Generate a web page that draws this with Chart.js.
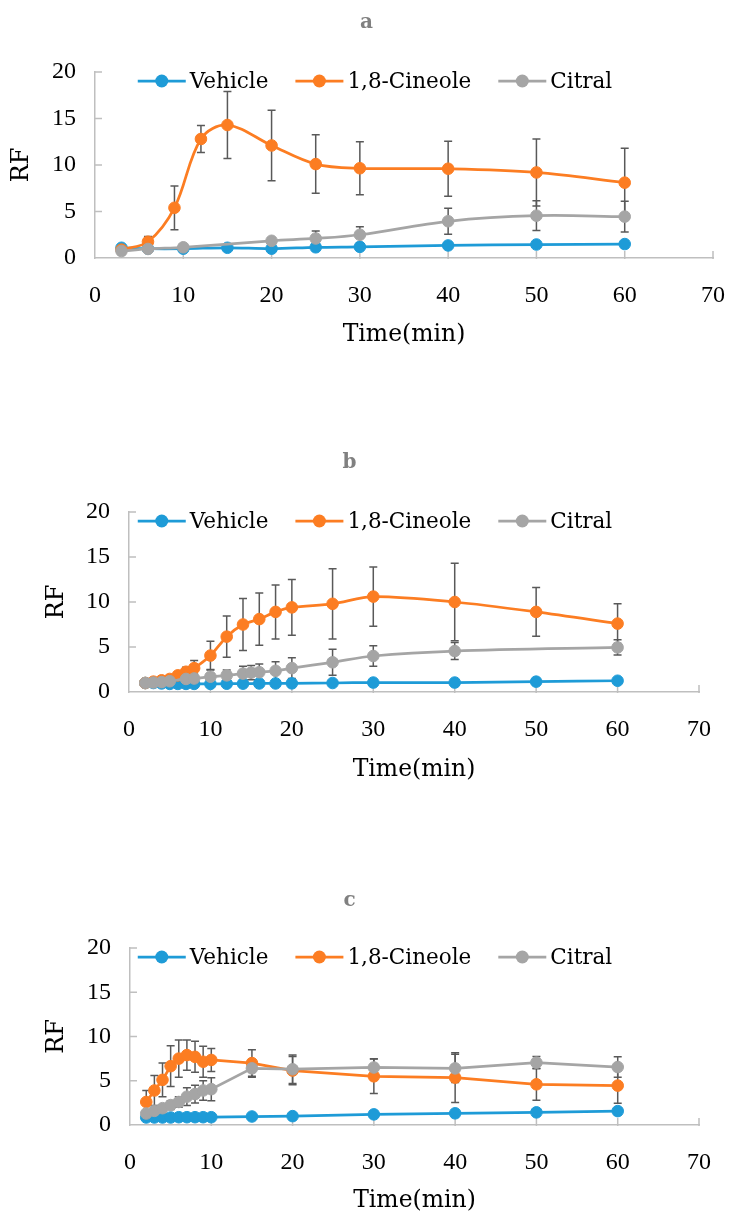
<!DOCTYPE html>
<html><head><meta charset="utf-8">
<script src="https://cdn.jsdelivr.net/npm/chart.js@4.4.0/dist/chart.umd.min.js"></script>
<style>
html,body{margin:0;padding:0;background:#fff;}
#wrap{position:relative;width:748px;height:1215px;overflow:hidden;background:#fff;}
.box{position:absolute;left:0;width:748px;}
canvas{display:block;}
</style></head><body>
<div id="wrap">
<div class="box" style="top:0;height:440px"><canvas id="ca" width="748" height="440"></canvas></div>
<div class="box" style="top:440px;height:440px"><canvas id="cb" width="748" height="440"></canvas></div>
<div class="box" style="top:880px;height:335px"><canvas id="cc" width="748" height="335"></canvas></div>
</div>
<script>
// ---------- data ----------
const seriesNames = ['Vehicle', '1,8-Cineole', 'Citral'];
const seriesColors = ['#1e9bd7', '#fc7d22', '#a5a5a5'];
const xTicks = [0, 10, 20, 30, 40, 50, 60, 70];
const yTicks = [0, 5, 10, 15, 20];
const xTitle = 'Time(min)';
const yTitle = 'RF';

// panel a
const aVehicleX = [3, 6, 10, 15, 20, 25, 30, 40, 50, 60];
const aVehicleY = [1.1, 1.0, 1.0, 1.1, 1.0, 1.15, 1.2, 1.35, 1.45, 1.5];
const aCineoleX = [3, 6, 9, 12, 15, 20, 25, 30, 40, 50, 60];
const aCineoleY = [0.9, 1.75, 5.4, 12.8, 14.3, 12.1, 10.1, 9.65, 9.6, 9.2, 8.1];
const aCineoleErr = [0, 0.55, 2.35, 1.45, 3.6, 3.8, 3.15, 2.85, 2.95, 3.6, 3.7];
const aCitralX = [3, 6, 10, 20, 25, 30, 40, 50, 60];
const aCitralY = [0.75, 0.97, 1.15, 1.85, 2.1, 2.5, 3.95, 4.55, 4.45];
const aCitralErr = [0, 0, 0.15, 0.3, 0.8, 0.85, 1.4, 1.6, 1.65];

// panel b
const bVehicleX = [2, 3, 4, 5, 6, 7, 8, 10, 12, 14, 16, 18, 20, 25, 30, 40, 50, 60];
const bVehicleY = [1.0, 1.0, 0.95, 0.9, 0.9, 0.9, 0.9, 0.9, 0.92, 0.93, 0.95, 0.95, 0.96, 1.0, 1.05, 1.05, 1.15, 1.25];
const bCineoleX = [2, 3, 4, 5, 6, 7, 8, 10, 12, 14, 16, 18, 20, 25, 30, 40, 50, 60];
const bCineoleY = [1.0, 1.15, 1.3, 1.45, 1.85, 2.25, 2.65, 4.05, 6.15, 7.5, 8.1, 8.9, 9.4, 9.8, 10.6, 10.0, 8.9, 7.6];
const bCineoleErr = [0, 0, 0, 0, 0.3, 0.5, 0.85, 1.6, 2.3, 2.9, 2.9, 3.0, 3.1, 3.9, 3.3, 4.3, 2.7, 2.2];
const bCitralX = [2, 3, 4, 5, 7, 8, 10, 12, 14, 15, 16, 18, 20, 25, 30, 40, 60];
const bCitralY = [1.0, 1.05, 1.1, 1.2, 1.45, 1.5, 1.7, 1.85, 2.05, 2.15, 2.2, 2.35, 2.65, 3.3, 4.0, 4.55, 4.95];
const bCitralErr = [0, 0, 0, 0, 0.4, 0.5, 0.8, 0.6, 0.8, 0.8, 0.9, 1.0, 1.15, 1.45, 1.15, 0.95, 0.85];

// panel c
const cVehicleX = [2, 3, 4, 5, 6, 7, 8, 9, 10, 15, 20, 30, 40, 50, 60];
const cVehicleY = [0.85, 0.85, 0.85, 0.85, 0.88, 0.88, 0.88, 0.88, 0.88, 0.96, 1.0, 1.2, 1.32, 1.43, 1.57];
const cCineoleX = [2, 3, 4, 5, 6, 7, 8, 9, 10, 15, 20, 30, 40, 50, 60];
const cCineoleY = [2.6, 3.9, 5.1, 6.65, 7.5, 7.9, 7.7, 7.15, 7.35, 7.0, 6.15, 5.5, 5.35, 4.6, 4.45];
const cCineoleErr = [1.3, 1.7, 1.9, 2.3, 2.1, 1.7, 1.75, 1.75, 1.3, 1.5, 1.6, 1.95, 2.8, 1.8, 2.0];
const cCitralX = [2, 3, 4, 5, 6, 7, 8, 9, 10, 15, 20, 30, 40, 50, 60];
const cCitralY = [1.3, 1.6, 1.9, 2.25, 2.6, 3.2, 3.5, 3.9, 4.05, 6.4, 6.3, 6.5, 6.4, 7.05, 6.55];
const cCitralErr = [0.3, 0.3, 0.4, 0.5, 0.6, 1.0, 1.0, 1.1, 1.3, 1.0, 1.6, 1.0, 1.6, 0.7, 1.15];

// ---------- plugins ----------
const innerTicks = {
  id: 'innerTicks',
  beforeDatasetsDraw(chart) {
    const {ctx, chartArea: a, scales: {x, y}} = chart;
    ctx.save();
    ctx.strokeStyle = '#bfbfbf';
    ctx.lineWidth = 1.5;
    ctx.beginPath();
    xTicks.forEach(v => { if (v === 0) return; const px = x.getPixelForValue(v); ctx.moveTo(px, a.bottom + 1); ctx.lineTo(px, a.bottom - 7); });
    yTicks.forEach(v => { if (v === 0) return; const py = y.getPixelForValue(v); ctx.moveTo(a.left, py); ctx.lineTo(a.left + 7, py); });
    ctx.stroke();
    ctx.restore();
  }
};
const errorBars = {
  id: 'errorBars',
  beforeDatasetsDraw(chart) {
    const {ctx, scales: {x, y}} = chart;
    ctx.save();
    ctx.strokeStyle = '#595959';
    ctx.lineWidth = 1.5;
    chart.data.datasets.forEach(ds => {
      if (!ds.errors) return;
      ds.data.forEach((p, i) => {
        const e = ds.errors[i];
        if (!e) return;
        const px = x.getPixelForValue(p.x);
        const y1 = y.getPixelForValue(p.y + e), y2 = y.getPixelForValue(p.y - e);
        ctx.beginPath();
        ctx.moveTo(px, y1); ctx.lineTo(px, y2);
        ctx.moveTo(px - 4, y1); ctx.lineTo(px + 4, y1);
        ctx.moveTo(px - 4, y2); ctx.lineTo(px + 4, y2);
        ctx.stroke();
      });
    });
    ctx.restore();
  }
};
const seriesLegend = {
  id: 'seriesLegend',
  afterDatasetsDraw(chart) {
    const {ctx, chartArea: a} = chart;
    const font = '21.5px "DejaVu Serif"';
    ctx.save();
    ctx.font = font;
    const lineLen = 48, gap = 4, itemGap = 27;
    const ds = chart.data.datasets;
    const widths = ds.map(d => ctx.measureText(d.label).width);
    const total = widths.reduce((s, w) => s + lineLen + gap + w, 0) + itemGap * (ds.length - 1);
    let x = chart.width / 2 - total / 2 + 1;
    const y = a.top + 9;
    ds.forEach((d, i) => {
      ctx.strokeStyle = d.borderColor;
      ctx.lineWidth = 2.75;
      ctx.beginPath(); ctx.moveTo(x, y); ctx.lineTo(x + lineLen, y); ctx.stroke();
      ctx.fillStyle = d.borderColor;
      ctx.beginPath(); ctx.arc(x + lineLen / 2, y, 6.5, 0, Math.PI * 2); ctx.fill();
      ctx.fillStyle = '#000';
      ctx.textBaseline = 'middle';
      ctx.textAlign = 'left';
      ctx.fillText(d.label, x + lineLen + gap, y + 1);
      x += lineLen + gap + widths[i] + itemGap;
    });
    ctx.restore();
  }
};

function pts(X, Y) { return X.map((x, i) => ({x: x, y: Y[i]})); }

function makeChart(id, cfg) {
  const datasets = cfg.series.map((s, i) => ({
    label: seriesNames[i],
    data: pts(s.x, s.y),
    errors: s.err || null,
    showLine: true,
    borderColor: seriesColors[i],
    backgroundColor: seriesColors[i],
    pointBackgroundColor: seriesColors[i],
    pointBorderColor: seriesColors[i],
    pointBorderWidth: 1,
    pointRadius: 5.8,
    borderWidth: 2.75,
    tension: cfg.tension,
    order: 2 - i,
    clip: false
  }));
  const titleTop = cfg.titleCenter - 12;
  return new Chart(document.getElementById(id), {
    type: 'scatter',
    data: {datasets},
    plugins: [innerTicks, errorBars, seriesLegend],
    options: {
      responsive: false,
      animation: false,
      devicePixelRatio: 1,
      layout: {padding: {left: 0, right: 748 - cfg.right, top: 0, bottom: 0}},
      plugins: {
        legend: {display: false},
        tooltip: {enabled: false},
        title: {
          display: true, text: cfg.title, color: '#808080',
          font: {family: 'DejaVu Serif', size: 20, weight: 'bold'},
          padding: {top: titleTop, bottom: cfg.top - titleTop - 24}
        }
      },
      scales: {
        x: {
          type: 'linear', min: 0, max: 70,
          afterBuildTicks(s) { s.ticks = xTicks.map(v => ({value: v})); },
          afterFit(s) { s.height = cfg.height - cfg.bottom; },
          grid: {display: false, drawTicks: false},
          border: {display: true, color: '#bfbfbf', width: 1.5},
          ticks: {color: '#000', padding: 23, font: {family: 'Liberation Serif', size: 24}},
          title: {display: true, text: xTitle, color: '#000',
            font: {family: 'DejaVu Serif', size: 23.5},
            padding: {top: 0, bottom: cfg.height - cfg.bottom - cfg.xTitleOff - 14.1}}
        },
        y: {
          type: 'linear', min: 0, max: 20,
          afterBuildTicks(s) { s.ticks = yTicks.map(v => ({value: v})); },
          afterFit(s) { s.width = cfg.left; },
          grid: {display: false, drawTicks: false},
          border: {display: true, color: '#bfbfbf', width: 1.5},
          ticks: {color: '#000', padding: 19, font: {family: 'Liberation Serif', size: 24}},
          title: {display: true, text: yTitle, color: '#000',
            font: {family: 'DejaVu Serif', size: 24},
            padding: {top: cfg.rfCenter - 14.4, bottom: 0}}
        }
      }
    }
  });
}

makeChart('ca', {
  title: 'a', height: 440, left: 95, right: 733, top: 72, bottom: 258,
  titleCenter: 23, rfCenter: 22, xTitleOff: 76.5, tension: 0.35,
  series: [
    {x: aVehicleX, y: aVehicleY},
    {x: aCineoleX, y: aCineoleY, err: aCineoleErr},
    {x: aCitralX, y: aCitralY, err: aCitralErr}
  ]
});
makeChart('cb', {
  title: 'b', height: 440, left: 129, right: 699, top: 72, bottom: 252,
  titleCenter: 23, rfCenter: 57, xTitleOff: 78, tension: 0.3,
  series: [
    {x: bVehicleX, y: bVehicleY},
    {x: bCineoleX, y: bCineoleY, err: bCineoleErr},
    {x: bCitralX, y: bCitralY, err: bCitralErr}
  ]
});
makeChart('cc', {
  title: 'c', height: 335, left: 130, right: 699, top: 68, bottom: 245,
  titleCenter: 21, rfCenter: 57, xTitleOff: 76, tension: 0,
  series: [
    {x: cVehicleX, y: cVehicleY},
    {x: cCineoleX, y: cCineoleY, err: cCineoleErr},
    {x: cCitralX, y: cCitralY, err: cCitralErr}
  ]
});
</script>
</body></html>
